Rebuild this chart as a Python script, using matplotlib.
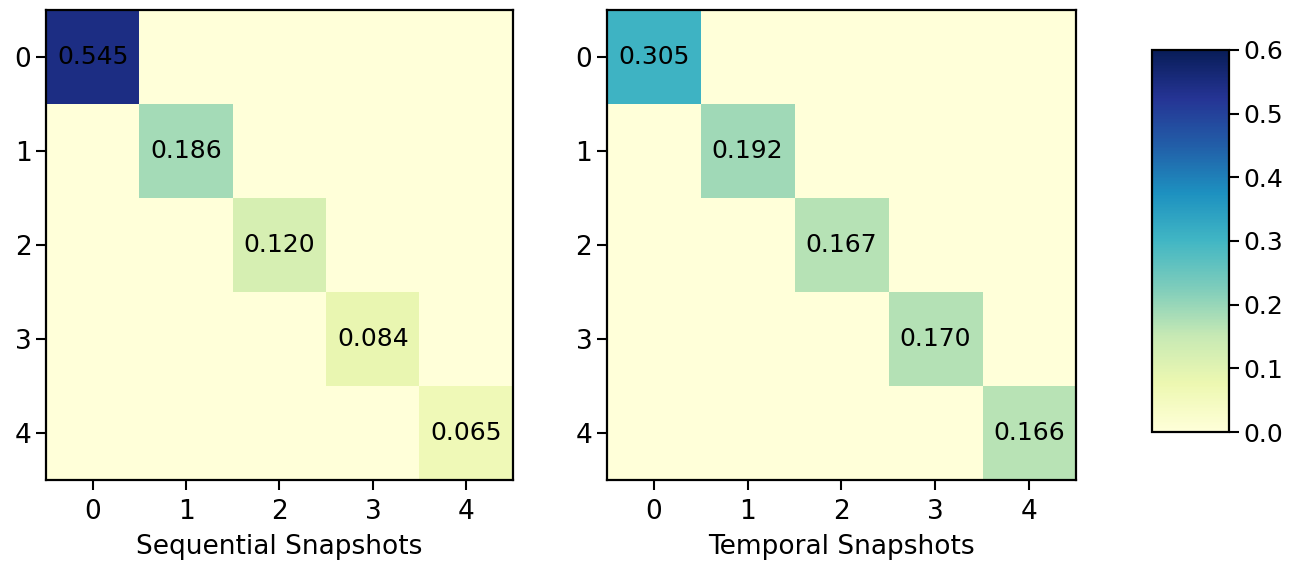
import matplotlib
matplotlib.use("Agg")
import matplotlib.pyplot as plt
import numpy as np

snapshots = [0, 1, 2, 3, 4]
sequential_diag = [0.545, 0.186, 0.120, 0.084, 0.065]
temporal_diag = [0.305, 0.192, 0.167, 0.170, 0.166]
titles = ["Sequential Snapshots", "Temporal Snapshots"]
cbar_ticks = [0.0, 0.1, 0.2, 0.3, 0.4, 0.5, 0.6]

plt.rcParams["font.size"] = 18
plt.rcParams["xtick.major.size"] = 7
plt.rcParams["ytick.major.size"] = 7
plt.rcParams["xtick.major.width"] = 1.5
plt.rcParams["ytick.major.width"] = 1.5
plt.rcParams["xtick.major.pad"] = 7

fig = plt.figure(figsize=(13.03, 5.62), dpi=100)
ax_l = fig.add_axes([0.0353, 0.1459, 0.3584, 0.836])
ax_r = fig.add_axes([0.4658, 0.1459, 0.3600, 0.836])
cax = fig.add_axes([0.884, 0.2313, 0.059, 0.68])

for ax, diag, label in zip([ax_l, ax_r], [sequential_diag, temporal_diag], titles):
    mat = np.diag(diag)
    im = ax.imshow(mat, cmap="YlGnBu", vmin=0, vmax=0.6, aspect="auto")
    for i, v in enumerate(diag):
        ax.text(i, i, f"{v:.3f}", ha="center", va="center", color="black", fontsize=18)
    ax.set_xticks(snapshots)
    ax.set_yticks(snapshots)
    ax.tick_params(labelsize=19)
    ax.set_xlabel(label, fontsize=19, labelpad=6)
    for sp in ax.spines.values():
        sp.set_linewidth(1.6)

cb = fig.colorbar(im, cax=cax, ticks=cbar_ticks)
cb.outline.set_linewidth(1.6)

fig.savefig("out.png", dpi=100)
